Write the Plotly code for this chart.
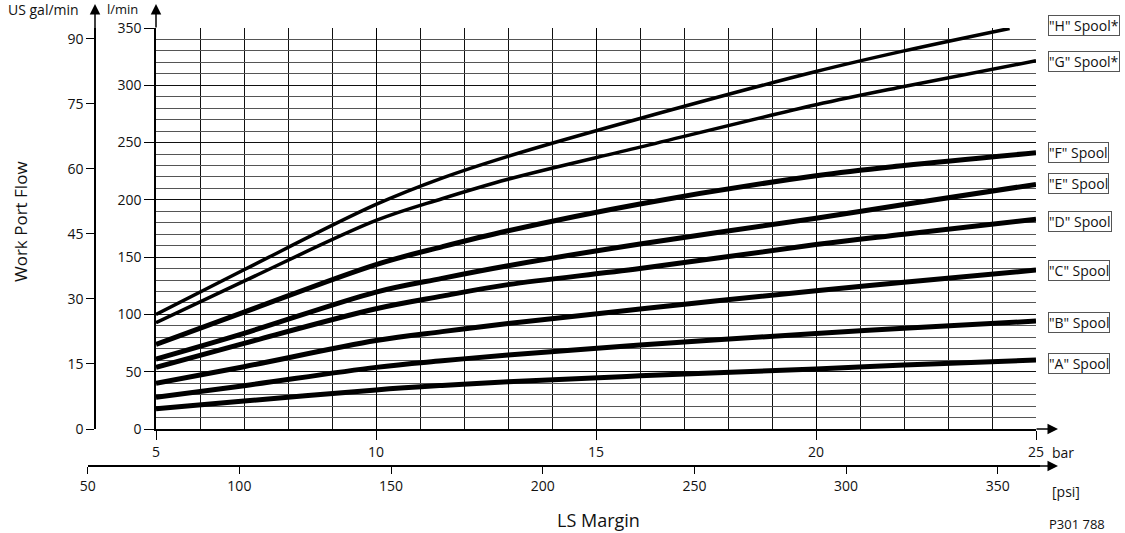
import plotly.graph_objects as go

# ---------------- data ----------------
bar_x = [5, 7, 10, 11.5, 13, 16, 20, 22, 25]
bar_x_h = [5, 7, 10, 11.5, 13, 16, 20, 22, 24.4]

spool_names = ['"H" Spool*', '"G" Spool*', '"F" Spool', '"E" Spool',
               '"D" Spool', '"C" Spool', '"B" Spool', '"A" Spool']

flow_H = [100, 139, 196, 219, 238, 271, 312, 330, 349.6]
flow_G = [92.8, 129, 182, 201, 218, 246, 283, 299, 321.4]
flow_F = [73.9, 102, 143.5, 159, 173, 196.4, 221, 230, 241.1]
flow_E = [61.1, 83.5, 119.5, 131.5, 142.5, 161.5, 184, 196, 213.5]
flow_D = [53.8, 74.8, 105, 116, 126, 140, 161, 170, 183.2]
flow_C = [39.9, 54.4, 77.2, 85, 92, 104.7, 120.7, 128, 138.7]
flow_B = [27.7, 37.8, 53.8, 59.5, 64.6, 73.3, 83.4, 88, 94.2]
flow_A = [17.7, 24.4, 34.1, 38, 41.3, 46.4, 52.4, 55.8, 60.2]

series = [flow_H, flow_G, flow_F, flow_E, flow_D, flow_C, flow_B, flow_A]
series_x = [bar_x_h] + [bar_x] * 7
line_widths = [3.5, 3.5, 5, 5, 5, 5, 5, 5]

# label box positions (l/min)
label_y = [352, 321, 241.5, 214, 181, 138, 93, 57]

lpm_ticks = [0, 50, 100, 150, 200, 250, 300, 350]
gal_ticks = [0, 15, 30, 45, 60, 75, 90]
bar_ticks = [5, 10, 15, 20, 25]
psi_ticks = [50, 100, 150, 200, 250, 300, 350]

L_PER_GAL = 3.785411784
PSI_PER_BAR = 14.5038

# ---------------- geometry helpers ----------------
W, H = 1125, 533
ML, MR, MT, MB = 40, 80, 28, 20
PW, PH = W - ML - MR, H - MT - MB


def px(p):
    return (p - ML) / PW


def py(p):
    return (H - MB - p) / PH


FONT = "Open Sans"
fig = go.Figure()

for name, xs, ys, lw in zip(spool_names, series_x, series, line_widths):
    fig.add_trace(go.Scatter(x=xs, y=ys, mode="lines", name=name,
                             line=dict(color="black", width=lw, shape="spline", smoothing=1.0),
                             showlegend=False, hoverinfo="skip"))

# dummy traces to activate the secondary axes
fig.add_trace(go.Scatter(x=[5], y=[0], yaxis="y2", mode="markers", marker=dict(opacity=0),
                         showlegend=False, hoverinfo="skip"))
fig.add_trace(go.Scatter(x=[100], y=[0], xaxis="x2", yaxis="y3", mode="markers",
                         marker=dict(opacity=0), showlegend=False, hoverinfo="skip"))

y0 = py(429)
psi_lo = PSI_PER_BAR * (5 + (87.7 - 156) / 44)
psi_hi = PSI_PER_BAR * (5 + (1040 - 156) / 44)

tickfont = dict(family=FONT, size=14, color="#111")

fig.update_layout(
    width=W, height=H,
    margin=dict(l=ML, r=MR, t=MT, b=MB),
    paper_bgcolor="white", plot_bgcolor="white",
    font=dict(family=FONT, color="#111"),
    xaxis=dict(domain=[px(156), px(1036)], range=[5, 25], tickvals=bar_ticks,
               ticks="outside", ticklen=9, tickcolor="black", tickwidth=1,
               showline=True, linecolor="black", linewidth=1.5,
               showgrid=True, gridcolor="black", gridwidth=1,
               minor=dict(dtick=1, tick0=5, showgrid=True, gridcolor="#111", gridwidth=1),
               zeroline=False, tickfont=tickfont),
    yaxis=dict(domain=[y0, 1], range=[0, 350], tickvals=lpm_ticks,
               ticks="outside", ticklen=10, tickcolor="black", tickwidth=1,
               showline=True, linecolor="black", linewidth=1.5,
               showgrid=True, gridcolor="#111", gridwidth=1,
               minor=dict(dtick=10, tick0=0, showgrid=True, gridcolor="#555", gridwidth=1),
               zeroline=False, tickfont=tickfont),
    yaxis2=dict(overlaying="y", anchor="free", position=px(95), side="left",
                range=[0, 350 / L_PER_GAL], tickvals=gal_ticks,
                ticks="outside", ticklen=8, tickcolor="black",
                showline=True, linecolor="black", linewidth=1.5,
                showgrid=False, zeroline=False, tickfont=tickfont),
    xaxis2=dict(domain=[px(87.7), px(1040)], range=[psi_lo, psi_hi], tickvals=psi_ticks,
                anchor="free", position=py(466), side="bottom",
                ticks="outside", ticklen=7, tickcolor="black",
                showline=True, linecolor="black", linewidth=1.5,
                showgrid=False, zeroline=False, tickfont=tickfont),
    yaxis3=dict(domain=[0, 0.01], anchor="x2", visible=False),
    hovermode=False,
)

ann = []
# arrows
ann.append(dict(xref="paper", yref="paper", x=px(95), y=py(4), ax=0, ay=36, text="",
                showarrow=True, arrowhead=2, arrowsize=1.4, arrowwidth=1.5, arrowcolor="black"))
ann.append(dict(xref="paper", yref="paper", x=px(156), y=py(4), ax=0, ay=25, text="",
                showarrow=True, arrowhead=2, arrowsize=1.4, arrowwidth=1.5, arrowcolor="black"))
ann.append(dict(xref="paper", yref="paper", x=px(1058), y=py(429), ax=-23, ay=0, text="",
                showarrow=True, arrowhead=2, arrowsize=1.4, arrowwidth=1.5, arrowcolor="black"))
ann.append(dict(xref="paper", yref="paper", x=px(1058), y=py(466), ax=-20, ay=0, text="",
                showarrow=True, arrowhead=2, arrowsize=1.4, arrowwidth=1.5, arrowcolor="black"))


def txt(t, x, y, xanchor="center", size=14, angle=0):
    return dict(xref="paper", yref="paper", x=px(x), y=py(y), text=t, showarrow=False,
                xanchor=xanchor, yanchor="middle", textangle=angle,
                font=dict(family=FONT, size=size, color="#111"))


ann.append(txt("US gal/min", 43, 10))
ann.append(txt("l/min", 122, 9, size=13))
ann.append(txt("Work Port Flow", 20, 222, size=17, angle=-90))
ann.append(txt("bar", 1050, 452, xanchor="left"))
ann.append(txt("[psi]", 1050, 491, xanchor="left"))
ann.append(txt("P301 788", 1047, 524, xanchor="left", size=13))
ann.append(txt("LS Margin", 598, 520, size=18))


def q2paper(q):
    return y0 + (q / 350.0) * (1 - y0)


for name, ly in zip(spool_names, label_y):
    ann.append(dict(xref="paper", yref="paper", x=px(1048), y=q2paper(ly), text=name,
                    showarrow=False, xanchor="left", yanchor="middle",
                    bordercolor="#555", borderwidth=1, borderpad=0, bgcolor="white",
                    font=dict(family=FONT, size=14, color="#111")))

fig.update_layout(annotations=ann)
fig.write_html("out.html")
